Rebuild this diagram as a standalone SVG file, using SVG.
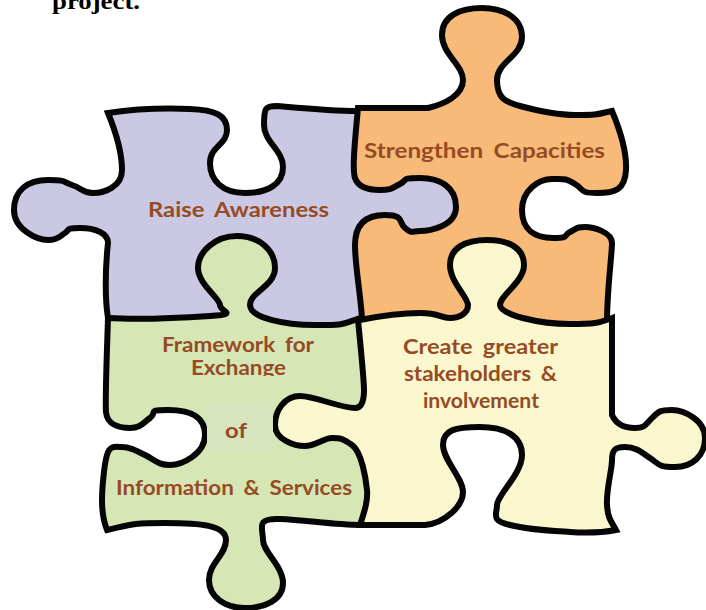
<svg xmlns="http://www.w3.org/2000/svg" width="706" height="610" viewBox="0 0 706 610">
<style>
.piece{stroke:#050505;stroke-width:6;stroke-linejoin:miter;stroke-miterlimit:3}
.lbl{font-family:"Lato","Open Sans",sans-serif;font-weight:700;font-size:21px;word-spacing:4px;fill:#964B24}
</style>
<defs><clipPath id="cutExchange"><rect x="180" y="355" width="120" height="21"/></clipPath></defs>
<rect width="706" height="610" fill="#fff"/>
<text x="52" y="9" textLength="88" lengthAdjust="spacingAndGlyphs" style="font-family:'Liberation Serif',serif;font-weight:700;font-size:24px;fill:#000">project.</text>
<g id="raise-awareness">
<path class="piece" fill="#CBC8E3" d="M108,113 C135,109 165,108 190,109 S227,115 227,130 S210,146 210,163 S222,193 245,193 S283,184 283,167 S264,142 264,125 S265,106 277,106 C300,108 330,111 358,111 L440,165 L470,207 L440,250 L370,300 L358,330 L108,330 L108,318 C105,300 105,270 108,243 C108,233 95,228 80,228 S70,230 65,233 S58,240 48,240 S14,230 14,210 S28,180 48,180 S62,182 72,185 S82,193 93,193 S122,187 122,170 S115,130 108,113Z"/>
</g>
<g id="strengthen-capacities">
<path class="piece" fill="#F8BA79" d="M358,108 L428,108 C445,104 463,95 463,80 S442,54 442,35 S460,8 482,8 S522,18 522,37 S497,62 497,80 S505,102 520,106 S555,115 575,115 S595,115 612,111 C620,130 627,150 626,170 S615,193 597,193 S585,190 575,184 S565,179 552,179 S522,190 522,210 S535,238 553,238 S562,236 570,232 S577,227 585,227 S612,232 612,243 S607,290 607,322 L607,340 L362,340 L362,318 C360,290 355,265 355,245 S365,215 385,215 S398,222 405,228 S412,231 420,231 S456,227 456,207 S440,178 420,178 S408,180 400,184 S392,190 380,190 S358,187 355,178 S355,140 358,108Z"/>
</g>
<g id="framework">
<path class="piece" fill="#D6E6B5" d="M108,318 C140,320 180,318 210,316 S220,312 220,305 S198,284 198,268 S215,236 237,236 S275,250 275,268 S250,292 250,305 S285,325 315,325 S340,325 360,318 L380,340 L380,500 L360,525 C335,525 305,520 280,519 S263,528 263,540 S283,566 283,583 S265,608 245,608 S209,597 209,580 S226,555 226,540 S200,523 165,523 S130,525 107,530 C103,520 102,510 102,500 S104,465 107,455 S115,447 122,447 S135,450 145,455 S158,465 170,465 S205,454 205,435 S190,410 168,410 S158,412 150,418 S140,428 130,428 S107,425 106,412 S107,350 108,318Z"/>
</g>
<g id="stakeholders">
<path class="piece" fill="#FAF6CE" d="M360,320 C380,316 400,313 420,313 S440,318 450,318 S468,313 468,305 S450,282 450,265 S465,240 487,240 S524,248 524,265 S500,295 500,305 S540,324 570,324 S600,322 612,318 L612,415 C616,424 625,428 635,428 S645,425 652,418 S660,410 672,410 S705,420 705,438 S692,467 675,467 S660,465 650,458 S635,447 625,447 S612,450 612,460 S606,490 607,505 S612,522 616,530 C600,533 585,533 570,532 S530,530 510,525 S497,515 497,505 S522,474 522,455 S505,427 480,427 S443,430 443,445 S463,478 463,492 S445,523 425,525 L360,525 C365,510 368,500 367,490 S362,452 352,445 S340,438 332,438 S315,446 305,446 S275,440 275,425 S285,396 300,396 S340,408 355,408 C362,408 364,400 364,390 S360,340 358,320Z"/>
</g>
<rect x="207" y="404" width="66" height="45" fill="#D8E4C0"/>
<g id="labels">
<text class="lbl" x="148" y="217" textLength="181" lengthAdjust="spacingAndGlyphs">Raise Awareness</text>
<text class="lbl" x="364" y="158" textLength="241" lengthAdjust="spacingAndGlyphs">Strengthen Capacities</text>
<text class="lbl" x="162" y="352" textLength="152" lengthAdjust="spacingAndGlyphs">Framework for</text>
<text class="lbl" x="191" y="375" textLength="95" lengthAdjust="spacingAndGlyphs" clip-path="url(#cutExchange)">Exchange</text>
<text class="lbl" x="225" y="438" textLength="22" lengthAdjust="spacingAndGlyphs">of</text>
<text class="lbl" x="116" y="495" textLength="236" lengthAdjust="spacingAndGlyphs">Information &amp; Services</text>
<text class="lbl" x="403" y="354" textLength="155" lengthAdjust="spacingAndGlyphs">Create greater</text>
<text class="lbl" x="404" y="381" textLength="153" lengthAdjust="spacingAndGlyphs">stakeholders &amp;</text>
<text class="lbl" x="423" y="408" textLength="116" lengthAdjust="spacingAndGlyphs">involvement</text>
</g>
</svg>
